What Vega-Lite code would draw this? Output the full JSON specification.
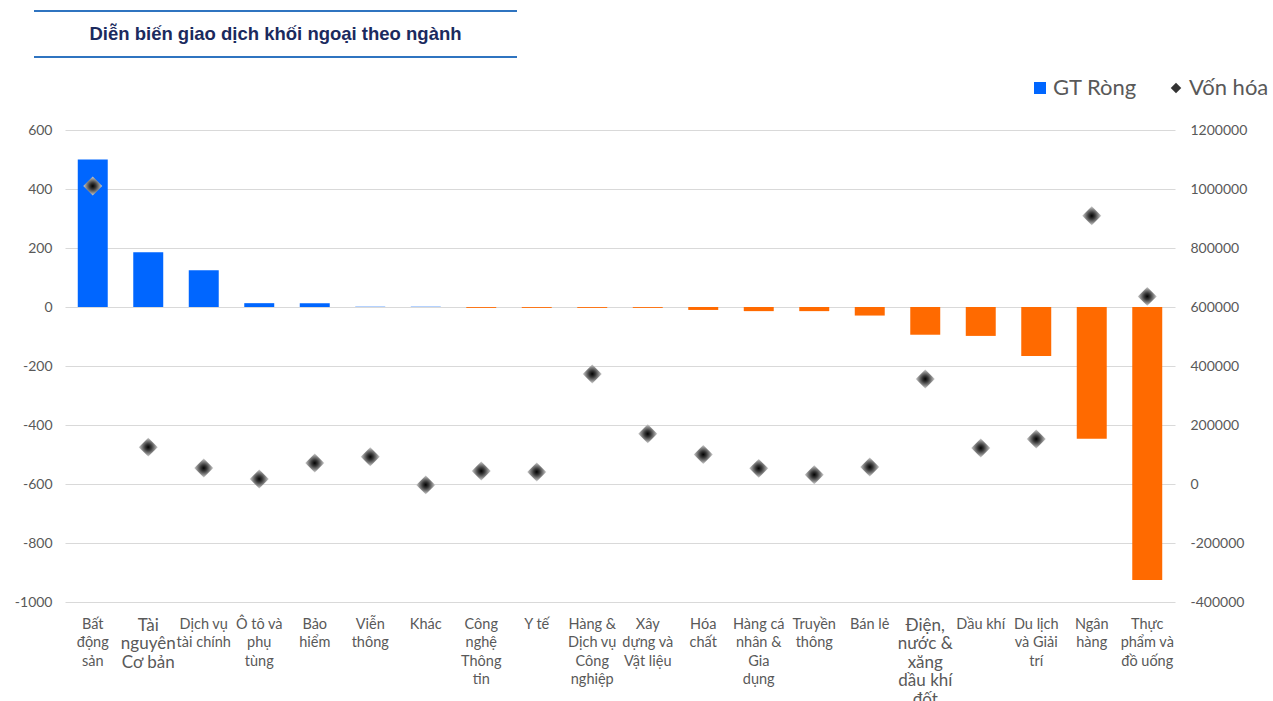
{
  "$schema": "https://vega.github.io/schema/vega-lite/v6.json",
  "padding": {"left": 14, "top": 9, "right": 0, "bottom": 0},
  "autosize": {"type": "pad"},
  "background": "white",
  "spacing": 64,
  "config": {"view": {"stroke": null}, "font": "Lato"},
  "datasets": {
    "sectors": [
      {"sector": "Bất|động|sản", "gt": 500, "von": 1010000},
      {"sector": "Tài|nguyên|Cơ bản", "gt": 186, "von": 125000},
      {"sector": "Dịch vụ|tài chính", "gt": 125, "von": 54000},
      {"sector": "Ô tô và|phụ|tùng", "gt": 13, "von": 17000},
      {"sector": "Bảo|hiểm", "gt": 13, "von": 71000},
      {"sector": "Viễn|thông", "gt": 1, "von": 92000},
      {"sector": "Khác", "gt": 1, "von": -3000},
      {"sector": "Công|nghệ|Thông|tin", "gt": -3, "von": 44000},
      {"sector": "Y tế", "gt": -3, "von": 41000},
      {"sector": "Hàng &|Dịch vụ|Công|nghiệp", "gt": -3, "von": 373000},
      {"sector": "Xây|dựng và|Vật liệu", "gt": -3, "von": 170000},
      {"sector": "Hóa|chất", "gt": -10, "von": 100000},
      {"sector": "Hàng cá|nhân &|Gia|dụng", "gt": -14, "von": 53000},
      {"sector": "Truyền|thông", "gt": -14, "von": 31500},
      {"sector": "Bán lẻ", "gt": -29, "von": 57600},
      {"sector": "Điện,|nước &|xăng|dầu khí|đốt", "gt": -94, "von": 356000},
      {"sector": "Dầu khí", "gt": -98, "von": 122000},
      {"sector": "Du lịch|và Giải|trí", "gt": -166, "von": 152500},
      {"sector": "Ngân|hàng", "gt": -447, "von": 909000},
      {"sector": "Thực|phẩm và|đồ uống", "gt": -925, "von": 636000}
    ]
  },
  "vconcat": [
    {
      "width": 483,
      "height": 46,
      "data": {"values": [{"edge": 0}, {"edge": 1}]},
      "layer": [
        {
          "mark": {"type": "rule", "color": "#2f74c0", "strokeWidth": 2.2, "xOffset": -31, "x2Offset": -31},
          "encoding": {
            "x": {"datum": 0, "type": "quantitative", "axis": null, "scale": {"domain": [0, 1]}},
            "x2": {"datum": 1},
            "y": {"field": "edge", "type": "quantitative", "axis": null, "scale": {"domain": [0, 1]}}
          }
        },
        {
          "data": {"values": [{"t": "Diễn biến giao dịch khối ngoại theo ngành"}]},
          "mark": {"type": "text", "font": "Liberation Sans", "fontWeight": "bold", "fontSize": 18.5, "color": "#1b2a5e", "dx": -31},
          "encoding": {"text": {"field": "t"}}
        }
      ]
    },
    {
      "width": 1110,
      "height": 472,
      "data": {"name": "sectors"},
      "encoding": {
        "x": {
          "field": "sector",
          "type": "nominal",
          "sort": null,
          "scale": {"paddingInner": 0.46, "paddingOuter": 0.23},
          "axis": {
            "title": null,
            "orient": "bottom",
            "labelAngle": 0,
            "ticks": false,
            "domain": false,
            "labelPadding": 15,
            "labelBaseline": "top",
            "labelLimit": 0,
            "labelColor": "#595959",
            "labelLineHeight": 18.5,
            "labelFontSize": {"condition": {"test": "indexof(datum.value, 'nguyên') >= 0 || indexof(datum.value, 'Điện') >= 0", "value": 17}, "value": 14.5},
            "labelExpr": "split(datum.value, '|')"
          }
        }
      },
      "layer": [
        {
          "mark": {"type": "bar"},
          "encoding": {
            "y": {
              "field": "gt",
              "type": "quantitative",
              "scale": {"domain": [-1000, 600], "nice": false},
              "axis": {
                "orient": "left",
                "title": null,
                "values": [-1000, -800, -600, -400, -200, 0, 200, 400, 600],
                "format": "d",
                "labelExpr": "replace(datum.label, '−', '-')",
                "grid": true,
                "gridColor": "#d9d9d9",
                "ticks": false,
                "domain": false,
                "labelPadding": 13,
                "labelFontSize": 14,
                "labelColor": "#595959"
              }
            },
            "color": {
              "datum": "GT Ròng",
              "condition": {"test": "datum.gt < 0", "value": "#ff6a00"},
              "scale": {"domain": ["GT Ròng", "Vốn hóa"], "range": ["#0066ff", "#333333"]},
              "legend": {
                "title": null,
                "orient": "none",
                "legendX": 964,
                "legendY": 66,
                "direction": "horizontal",
                "labelFontSize": 22,
                "labelColor": "#595959",
                "labelOffset": 2,
                "columnPadding": 28,
                "symbolSize": 144,
                "symbolType": "square",
                "symbolStrokeWidth": 0,
                "encode": {
                  "symbols": {
                    "update": {
                      "shape": {"signal": "datum.value === 'Vốn hóa' ? 'diamond' : 'square'"},
                      "size": {"signal": "datum.value === 'Vốn hóa' ? 110 : 144"}
                    }
                  }
                }
              }
            }
          }
        },
        {
          "mark": {
            "type": "point",
            "shape": "diamond",
            "size": 360,
            "filled": true,
            "opacity": 1,
            "strokeWidth": 0,
            "fill": {
              "gradient": "radial",
              "x1": 0.5, "y1": 0.5, "r1": 0,
              "x2": 0.5, "y2": 0.5, "r2": 0.5,
              "stops": [
                {"offset": 0, "color": "#000000"},
                {"offset": 0.35, "color": "#3a3a3a"},
                {"offset": 0.7, "color": "#8a8a8a"},
                {"offset": 1, "color": "#d0d0d0"}
              ]
            }
          },
          "encoding": {
            "y": {
              "field": "von",
              "type": "quantitative",
              "scale": {"domain": [-400000, 1200000], "nice": false},
              "axis": {
                "orient": "right",
                "title": null,
                "values": [-400000, -200000, 0, 200000, 400000, 600000, 800000, 1000000, 1200000],
                "format": "d",
                "labelExpr": "replace(datum.label, '−', '-')",
                "grid": false,
                "ticks": false,
                "domain": false,
                "labelPadding": 15,
                "labelFontSize": 14,
                "labelColor": "#595959"
              }
            }
          }
        }
      ],
      "resolve": {"scale": {"y": "independent"}}
    }
  ]
}
